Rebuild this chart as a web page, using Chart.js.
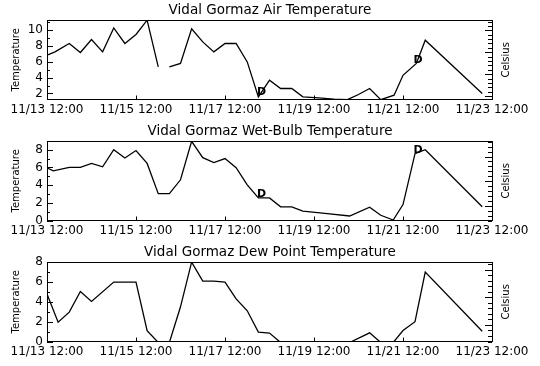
<!DOCTYPE html>
<html>
<head>
<meta charset="utf-8">
<script src="https://cdn.jsdelivr.net/npm/chart.js@4.4.0/dist/chart.umd.min.js"></script>
<style>
  body { margin: 0; background: #fff; }
  canvas { position: absolute; left: 0; }
</style>
</head>
<body>
<canvas id="c0" width="540" height="121" style="top:0px"></canvas>
<canvas id="c1" width="540" height="121" style="top:121px"></canvas>
<canvas id="c2" width="540" height="121" style="top:242px"></canvas>
<script>
const titles = ['Vidal Gormaz Air Temperature', 'Vidal Gormaz Wet-Bulb Temperature', 'Vidal Gormaz Dew Point Temperature']

// x is days after 11/13 12:00
const xTickValues = [0, 2, 4, 6, 8, 10]
const xTickLabels = ['11/13 12:00', '11/15 12:00', '11/17 12:00', '11/19 12:00', '11/21 12:00', '11/23 12:00']

const airDays = [0, 0.18, 0.5, 0.75, 1.0, 1.25, 1.5, 1.75, 2.0, 2.25, 2.5, 2.62, 2.75, 3.0, 3.25, 3.5, 3.75, 4.0, 4.25, 4.5, 4.75, 5.0, 5.25, 5.5, 5.75, 6.1, 6.45, 6.75, 7.0, 7.25, 7.5, 7.8, 8.0, 8.3, 8.5, 9.78]
const airTemp = [6.85, 7.27, 8.33, 7.19, 8.84, 7.27, 10.3, 8.33, 9.47, 11.28, 5.37, null, 5.37, 5.8, 10.2, 8.53, 7.27, 8.33, 8.33, 6.0, 1.57, 3.68, 2.63, 2.63, 1.57, 1.44, 1.28, 1.22, 1.87, 2.63, 1.22, 1.78, 4.3, 5.8, 8.75, 2.0]

const wetDays = [0, 0.14, 0.5, 0.75, 1.0, 1.25, 1.5, 1.75, 2.0, 2.25, 2.5, 2.75, 3.0, 3.25, 3.5, 3.75, 4.0, 4.25, 4.5, 4.75, 5.0, 5.25, 5.5, 5.75, 6.3, 6.8, 7.25, 7.5, 7.78, 8.0, 8.27, 8.5, 9.78]
const wetTemp = [5.96, 5.6, 6.0, 6.0, 6.45, 6.07, 8.0, 7.07, 7.9, 6.45, 3.03, 3.03, 4.6, 8.95, 7.1, 6.55, 7.0, 5.96, 4.03, 2.55, 2.55, 1.55, 1.55, 1.07, 0.78, 0.51, 1.51, 0.59, 0.05, 1.8, 7.55, 8.0, 1.55]

const dewDays = [0, 0.25, 0.5, 0.75, 1.0, 1.5, 2.0, 2.25, 2.5, 2.75, 3.0, 3.25, 3.5, 3.75, 4.0, 4.25, 4.5, 4.75, 5.0, 5.25, 5.5, 5.75, 6.3, 6.8, 7.25, 7.5, 7.78, 8.0, 8.27, 8.5, 9.78]
const dewTemp = [4.8, 1.95, 2.96, 5.05, 4.04, 6.0, 6.0, 1.1, -0.1, -0.1, 3.5, 8.0, 6.1, 6.1, 6.0, 4.3, 3.1, 0.95, 0.85, -0.1, -0.6, -1.0, -1.2, -0.1, 0.87, -0.1, -0.1, 1.1, 2.0, 7.0, 1.04]

// "D" markers
const markDays = [4.82, 8.34]
const airMarks = [2.2, 6.2]
const wetMarks = [3.0, 7.9]

const yMin = [1.24, 0, 0]
const yMax = [11.28, 8.96, 8]
const yTicks = [[2, 4, 6, 8, 10], [0, 2, 4, 6, 8], [0, 2, 4, 6, 8]]

const panels = [
  { days: airDays, temp: airTemp, marks: airMarks },
  { days: wetDays, temp: wetTemp, marks: wetMarks },
  { days: dewDays, temp: dewTemp, marks: [] }
]

const font = 'DejaVu Sans'

// box, inward ticks, right label and D markers
const frame = {
  id: 'frame',
  afterDraw(chart, args, opts) {
    const { ctx, chartArea: a, scales } = chart
    const y = scales.y
    ctx.save()
    ctx.strokeStyle = '#000'
    ctx.lineWidth = 1
    ctx.strokeRect(Math.round(a.left) + 0.5, Math.round(a.top) + 0.5, Math.round(a.right - a.left), Math.round(a.bottom - a.top))
    ctx.beginPath()
    for (let v = Math.ceil(y.min); v <= y.max; v++) {
      const py = Math.round(y.getPixelForValue(v)) + 0.5
      const len = v % 2 === 0 ? 6 : 3
      ctx.moveTo(a.left, py)
      ctx.lineTo(a.left + len, py)
    }
    const f0 = y.min * 9 / 5 + 32
    const f1 = y.max * 9 / 5 + 32
    for (let f = Math.ceil(f0); f <= f1; f++) {
      const py = Math.round(y.getPixelForValue((f - 32) * 5 / 9)) + 0.5
      const len = f % 5 === 0 ? 7 : 4
      ctx.moveTo(a.right, py)
      ctx.lineTo(a.right - len, py)
    }
    scales.x.ticks.forEach(t => {
      const px = Math.round(scales.x.getPixelForValue(t.value)) + 0.5
      ctx.moveTo(px, a.bottom)
      ctx.lineTo(px, a.bottom - 4)
    })
    ctx.stroke()

    ctx.fillStyle = '#000'
    ctx.textAlign = 'center'
    ctx.textBaseline = 'middle'
    ctx.font = 'bold 11px "' + font + '"'
    opts.marks.forEach((m, i) => {
      ctx.fillText('D', scales.x.getPixelForValue(markDays[i]), y.getPixelForValue(m))
    })

    ctx.font = '10px "' + font + '"'
    ctx.translate(506, (a.top + a.bottom) / 2)
    ctx.rotate(-Math.PI / 2)
    ctx.fillText('Celsius', 0, 0)
    ctx.restore()
  }
}

panels.forEach((p, i) => {
  new Chart(document.getElementById('c' + i), {
    type: 'line',
    data: {
      datasets: [{
        data: p.days.map((d, k) => ({ x: d, y: p.temp[k] })),
        borderColor: '#000',
        borderWidth: 1.3,
        pointRadius: 0,
        tension: 0,
        spanGaps: false
      }]
    },
    options: {
      responsive: false,
      animation: false,
      devicePixelRatio: 1,
      layout: { padding: 0 },
      scales: {
        x: {
          type: 'linear',
          min: 0,
          max: 10,
          grid: { display: false, drawTicks: false },
          border: { display: false },
          afterBuildTicks: s => { s.ticks = xTickValues.map(v => ({ value: v })) },
          afterFit: s => { s.height = 21.5 },
          ticks: {
            autoSkip: false,
            maxRotation: 0,
            padding: 3,
            color: '#000',
            font: { family: font, size: 12 },
            callback: (v, idx) => xTickLabels[idx]
          }
        },
        y: {
          position: 'left',
          min: yMin[i],
          max: yMax[i],
          grid: { display: false, drawTicks: false },
          border: { display: false },
          afterBuildTicks: s => { s.ticks = yTicks[i].map(v => ({ value: v })) },
          afterFit: s => { s.width = 47 },
          ticks: {
            padding: 4,
            color: '#000',
            font: { family: font, size: 12 },
            callback: v => String(v)
          },
          title: {
            display: true,
            text: 'Temperature',
            color: '#000',
            font: { family: font, size: 10 },
            padding: { top: 10.5, bottom: 0 }
          }
        },
        y2: {
          position: 'right',
          display: true,
          min: yMin[i],
          max: yMax[i],
          grid: { display: false, drawTicks: false },
          border: { display: false },
          ticks: { display: false },
          afterFit: s => { s.width = 48 }
        }
      },
      plugins: {
        legend: { display: false },
        tooltip: { enabled: false },
        title: {
          display: true,
          text: titles[i],
          color: '#000',
          font: { family: font, size: 13.5, weight: 'normal' },
          padding: { top: 2, bottom: 2 }
        },
        frame: { marks: p.marks }
      }
    },
    plugins: [frame]
  })
})
</script>
</body>
</html>
